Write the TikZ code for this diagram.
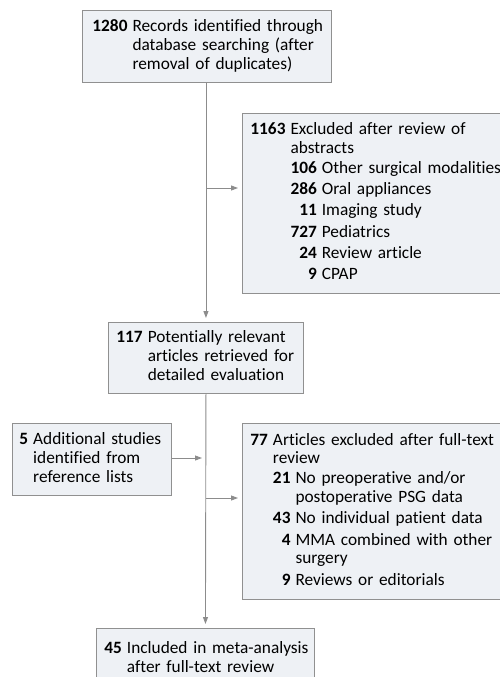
\documentclass[tikz,border=0pt]{standalone}
\usepackage{fontspec}
\setmainfont{Carlito}[Ligatures=NoCommon]
\usetikzlibrary{positioning,calc,arrows.meta}

\definecolor{boxfill}{HTML}{EEF1F5}
\definecolor{boxline}{HTML}{909090}
\definecolor{flowline}{HTML}{8C8C8C}

% number column + hanging text
\newcommand{\numlist}[1]{\begin{tabular}[t]{@{}r@{\hspace{5pt}}l@{}}#1\end{tabular}}

\begin{document}
\begin{tikzpicture}
  [x=1pt,y=-1pt,
   flowBox/.style={draw=boxline,fill=boxfill,line width=0.9pt,anchor=north west,
     inner xsep=8pt,inner ysep=0pt,align=left,
     font=\fontsize{17.3}{18.8}\selectfont},
   flowArr/.style={draw=flowline,line width=0.9pt,
     -{Triangle[length=7pt,width=5pt]},shorten >=4pt},
  ]
  \useasboundingbox (0,0) rectangle (500,677);
  \clip (0,0) rectangle (500,677);

  % boxes
  \node[flowBox,text width=229pt,minimum height=72pt,inner xsep=10pt] (records) at (82,10)
    {\numlist{\textbf{1280} & Records identified through\\
      & database searching (after\\ & removal of duplicates)}};
  \node[flowBox,text width=250pt,minimum height=180pt] (abstr) at (242,113)
    {\numlist{\textbf{1163} & Excluded after review of\\ & abstracts\\[1pt]
      & \numlist{\textbf{106} & Other surgical modalities\\[2.5pt]
        \textbf{286} & Oral appliances\\[2.5pt]
        \textbf{11} & Imaging study\\[2.5pt]
        \textbf{727} & Pediatrics\\[2.5pt]
        \textbf{24} & Review article\\[2.5pt]
        \textbf{9} & CPAP}}};
  \node[flowBox,text width=179pt,minimum height=71pt] (relev) at (108,322)
    {\numlist{\textbf{117} & Potentially relevant\\
      & articles retrieved for\\ & detailed evaluation}};
  \node[flowBox,text width=145pt,minimum height=72pt,inner xsep=7pt] (addit) at (12,423)
    {\numlist{\textbf{5} & Additional studies\\
      & identified from\\ & reference lists}};
  \node[flowBox,text width=250pt,minimum height=176pt] (fulltx) at (242,423)
    {\numlist{\textbf{77} & Articles excluded after full-text\\ & review\\[1pt]
      & \numlist{\textbf{21} & No preoperative and/or\\
        & postoperative PSG data\\[2.5pt]
        \textbf{43} & No individual patient data\\[2.5pt]
        \textbf{4} & MMA combined with other\\ & surgery\\[2.5pt]
        \textbf{9} & Reviews or editorials}}};
  \node[flowBox,text width=202pt,minimum height=62pt] (incl) at (96,628)
    {\numlist{\textbf{45} & Included in meta-analysis\\ & after full-text review}};

  % connectors
  \coordinate (jabs) at (206,188);
  \coordinate (jadd) at (206,458);
  \coordinate (jful) at (206,498);
  \draw[flowArr] (records.south -| relev.north) -- (relev.north);
  \draw[flowArr] (jabs) -- (jabs -| abstr.west);
  \draw[flowArr] (relev.south) -- (incl.north);
  \draw[flowArr] (addit.east |- jadd) -- (jadd);
  \draw[flowArr] (jful) -- (jful -| fulltx.west);
\end{tikzpicture}
\end{document}
